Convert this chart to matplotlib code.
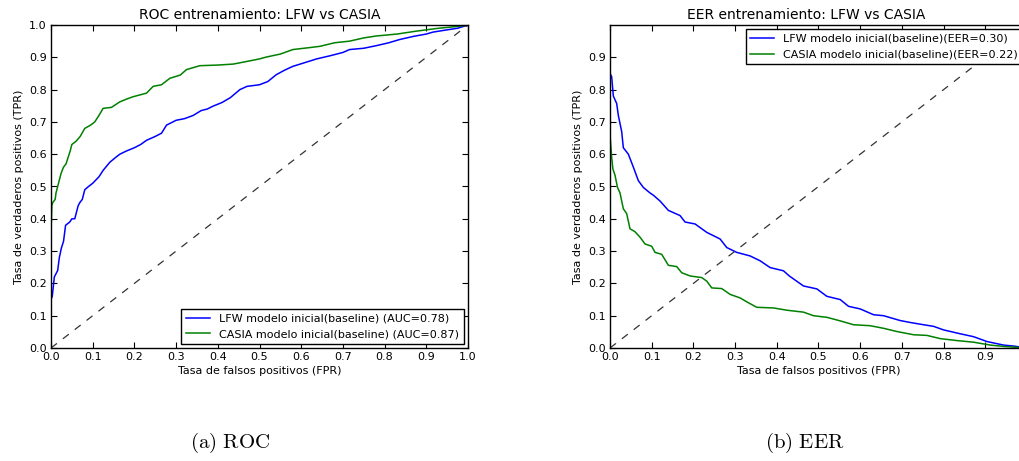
import numpy as np
import matplotlib
matplotlib.use("Agg")
import matplotlib.pyplot as plt

# ROC curves (FPR, TPR)
roc_lfw_fpr = [0.0, 0.003, 0.008, 0.012, 0.016, 0.02, 0.025, 0.03, 0.035, 0.045, 0.05, 0.057,
               0.065, 0.069, 0.075, 0.081, 0.09, 0.1, 0.115, 0.125, 0.141, 0.155, 0.165, 0.181,
               0.2, 0.215, 0.229, 0.25, 0.265, 0.277, 0.3, 0.32, 0.341, 0.36, 0.375, 0.389, 0.41,
               0.43, 0.453, 0.47, 0.5, 0.52, 0.54, 0.56, 0.58, 0.6, 0.637, 0.67, 0.7, 0.716, 0.75,
               0.78, 0.81, 0.836, 0.87, 0.9, 0.916, 0.95, 0.975, 1.0]
roc_lfw_tpr = [0.15, 0.16, 0.22, 0.23, 0.24, 0.28, 0.31, 0.33, 0.38, 0.39, 0.40, 0.40,
               0.44, 0.45, 0.46, 0.49, 0.50, 0.51, 0.53, 0.55, 0.575, 0.59, 0.60, 0.61,
               0.62, 0.63, 0.643, 0.655, 0.665, 0.69, 0.705, 0.71, 0.72, 0.735, 0.74, 0.749, 0.76,
               0.775, 0.80, 0.81, 0.815, 0.825, 0.846, 0.86, 0.872, 0.88, 0.895, 0.905, 0.915, 0.924, 0.928,
               0.936, 0.945, 0.955, 0.965, 0.972, 0.978, 0.985, 0.99, 1.0]

roc_casia_fpr = [0.0, 0.002, 0.004, 0.01, 0.012, 0.018, 0.024, 0.03, 0.036, 0.041, 0.046, 0.05,
                 0.06, 0.07, 0.081, 0.095, 0.105, 0.115, 0.125, 0.145, 0.165, 0.18, 0.197, 0.229,
                 0.245, 0.265, 0.285, 0.31, 0.325, 0.357, 0.4, 0.437, 0.469, 0.5, 0.517, 0.55,
                 0.58, 0.62, 0.645, 0.68, 0.716, 0.75, 0.78, 0.83, 0.876, 0.93, 0.97, 1.0]
roc_casia_tpr = [0.35, 0.44, 0.45, 0.46, 0.48, 0.51, 0.54, 0.56, 0.57, 0.59, 0.61, 0.63,
                 0.64, 0.655, 0.68, 0.69, 0.70, 0.72, 0.742, 0.745, 0.762, 0.77, 0.778, 0.789,
                 0.81, 0.815, 0.835, 0.845, 0.862, 0.874, 0.876, 0.879, 0.887, 0.895, 0.901, 0.91,
                 0.924, 0.93, 0.934, 0.945, 0.95, 0.96, 0.966, 0.972, 0.981, 0.99, 0.995, 1.0]

# EER curves (FPR, FNR)
eer_lfw_fpr = [0.0, 0.004, 0.008, 0.016, 0.02, 0.028, 0.032, 0.044, 0.056, 0.068, 0.08, 0.096,
               0.104, 0.12, 0.14, 0.168, 0.18, 0.204, 0.232, 0.264, 0.28, 0.304, 0.336, 0.36,
               0.384, 0.416, 0.43, 0.464, 0.496, 0.52, 0.552, 0.572, 0.6, 0.632, 0.656, 0.696,
               0.72, 0.752, 0.776, 0.8, 0.84, 0.872, 0.904, 0.944, 0.968, 1.0]
eer_lfw_fnr = [0.85, 0.84, 0.78, 0.757, 0.72, 0.67, 0.62, 0.60, 0.56, 0.518, 0.497, 0.48,
               0.473, 0.455, 0.426, 0.41, 0.39, 0.384, 0.358, 0.3375, 0.311, 0.296, 0.285, 0.27,
               0.249, 0.239, 0.223, 0.192, 0.183, 0.16, 0.15, 0.129, 0.121, 0.103, 0.1, 0.085,
               0.079, 0.072, 0.067, 0.056, 0.044, 0.035, 0.02, 0.009, 0.006, 0.0]

eer_casia_fpr = [0.0, 0.004, 0.007, 0.012, 0.018, 0.024, 0.032, 0.04, 0.048, 0.06, 0.072, 0.084,
                 0.1, 0.108, 0.124, 0.14, 0.16, 0.172, 0.192, 0.22, 0.232, 0.244, 0.268, 0.288,
                 0.312, 0.332, 0.352, 0.392, 0.424, 0.464, 0.488, 0.52, 0.552, 0.584, 0.624, 0.656,
                 0.688, 0.728, 0.76, 0.792, 0.832, 0.872, 0.912, 0.952, 1.0]
eer_casia_fnr = [0.66, 0.59, 0.554, 0.535, 0.497, 0.48, 0.431, 0.416, 0.369, 0.36, 0.343, 0.322,
                 0.315, 0.296, 0.29, 0.256, 0.252, 0.233, 0.223, 0.218, 0.207, 0.186, 0.184, 0.166,
                 0.155, 0.14, 0.126, 0.124, 0.117, 0.111, 0.1, 0.095, 0.084, 0.072, 0.069, 0.061,
                 0.051, 0.041, 0.039, 0.029, 0.023, 0.018, 0.009, 0.004, 0.0]

roc_labels = ["LFW modelo inicial(baseline) (AUC=0.78)", "CASIA modelo inicial(baseline) (AUC=0.87)"]
eer_labels = ["LFW modelo inicial(baseline)(EER=0.30)", "CASIA modelo inicial(baseline)(EER=0.22)"]
ticks = np.arange(0, 1.01, 0.1)

plt.rcParams.update({
    "font.family": "DejaVu Sans",
    "font.size": 8,
    "xtick.direction": "in",
    "ytick.direction": "in",
    "xtick.top": True,
    "ytick.right": True,
    "xtick.major.size": 4,
    "ytick.major.size": 4,
    "xtick.major.pad": 3,
    "ytick.major.pad": 3,
    "axes.linewidth": 1.0,
    "mathtext.fontset": "cm",
})

fig = plt.figure(figsize=(10.2, 4.61), dpi=100)
W, H = 1020.0, 461.0
ax1 = fig.add_axes([51 / W, 1 - 348 / H, 417 / W, 323 / H])
ax2 = fig.add_axes([610 / W, 1 - 348 / H, 417 / W, 323 / H])


def style_axes(ax, title):
    ax.set_xlim(0, 1)
    ax.set_ylim(0, 1)
    ax.set_title(title, fontsize=10, pad=4)
    ax.set_xlabel("Tasa de falsos positivos (FPR)", fontsize=8, labelpad=3)
    ax.set_ylabel("Tasa de verdaderos positivos (TPR)", fontsize=8, labelpad=4)
    ax.xaxis.set_major_formatter(plt.FormatStrFormatter("%.1f"))
    ax.yaxis.set_major_formatter(plt.FormatStrFormatter("%.1f"))


def add_legend(ax, loc):
    leg = ax.legend(loc=loc, fontsize=8, fancybox=False, framealpha=1,
                    edgecolor="black", handlelength=2.2, borderaxespad=0.4)
    leg.get_frame().set_linewidth(1.0)


# ROC
ax1.plot(roc_lfw_fpr, roc_lfw_tpr, color="b", lw=1.1, label=roc_labels[0])
ax1.plot(roc_casia_fpr, roc_casia_tpr, color="g", lw=1.1, label=roc_labels[1])
ax1.plot([0, 1], [0, 1], color="#333333", lw=0.9, dashes=(6, 6))
style_axes(ax1, "ROC entrenamiento: LFW vs CASIA")
ax1.set_xticks(ticks)
ax1.set_yticks(ticks)
add_legend(ax1, "lower right")

# EER
ax2.plot(eer_lfw_fpr, eer_lfw_fnr, color="b", lw=1.1, label=eer_labels[0])
ax2.plot(eer_casia_fpr, eer_casia_fnr, color="g", lw=1.1, label=eer_labels[1])
ax2.plot([0, 1], [0, 1], color="#333333", lw=0.9, dashes=(6, 6))
style_axes(ax2, "EER entrenamiento: LFW vs CASIA")
ax2.set_xticks(ticks[:-1])
ax2.set_yticks(ticks[:-1])
ax2.title.set_position((0.47, 1.0))
add_legend(ax2, "upper right")

# captions under the subfigures
fig.text(230 / W, 1 - 443 / H, r"$\mathrm{(a)\ ROC}$", fontsize=15, ha="center", va="center")
fig.text(805 / W, 1 - 443 / H, r"$\mathrm{(b)\ EER}$", fontsize=15, ha="center", va="center")

fig.savefig("out.png", dpi=100, facecolor="white")
